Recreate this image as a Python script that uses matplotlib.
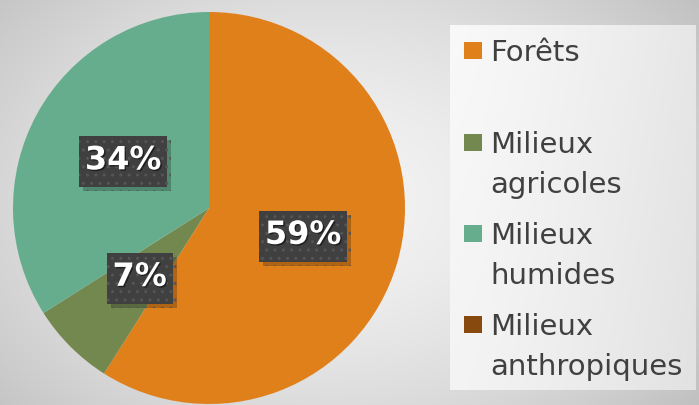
import numpy as np
import matplotlib
matplotlib.use("Agg")
import matplotlib.pyplot as plt
from matplotlib.patches import Rectangle
import matplotlib.patheffects as pe

categories = ["Forêts", "Milieux\nagricoles", "Milieux\nhumides", "Milieux\nanthropiques"]
values = [59, 7, 34, 0]
colors = ["#E0801B", "#72884F", "#66AD8E", "#87490D"]

W, H = 699, 405
fig = plt.figure(figsize=(W / 100, H / 100), dpi=100)

# background radial gradient
bg = fig.add_axes([0, 0, 1, 1], zorder=0)
yy, xx = np.mgrid[0:H, 0:W]
d = np.sqrt(((xx - 330) / 420.0) ** 2 + ((yy - 200) / 300.0) ** 2)
g = 0.955 - 0.17 * np.clip(d, 0, 1.3) ** 1.6
bg.imshow(np.dstack([g, g, g]), extent=[0, W, H, 0], aspect="auto")
bg.set_xlim(0, W)
bg.set_ylim(H, 0)
bg.axis("off")

# legend panel
lp = fig.add_axes([450 / W, 1 - 390 / H, 246 / W, 365 / H], zorder=1)
gx = np.linspace(0, 1, 200)
gy = np.linspace(0, 1, 100)
GX, GY = np.meshgrid(gx, gy)
pg = 0.975 - 0.07 * GX ** 1.3 - 0.02 * GY
lp.imshow(np.dstack([pg, pg, pg]), extent=[0, 1, 1, 0], aspect="auto")
lp.axis("off")

# pie
cx, cy, r = 209, 208, 196
ax = fig.add_axes([(cx - r) / W, (H - cy - r) / H, 2 * r / W, 2 * r / H], zorder=2)
wedges, texts, autotexts = ax.pie(
    values, colors=colors, startangle=90, counterclock=False,
    autopct=lambda p: f"{p:.0f}%" if p > 0.5 else "", pctdistance=0.5,
    wedgeprops=dict(linewidth=0),
    textprops=dict(color="white", fontsize=23, fontweight="bold", family=["DejaVu Sans"]),
)
ax.set_xlim(-1, 1)
ax.set_ylim(-1, 1)
ax.set_aspect("equal")
ax.axis("off")

fig.canvas.draw()
renderer = fig.canvas.get_renderer()
px = 1.0 / r  # data units per pixel
for t in autotexts:
    if not t.get_text():
        continue
    t.set_zorder(4)
    t.set_path_effects([pe.withSimplePatchShadow(offset=(1, -1), shadow_rgbFace="#000000", alpha=0.5)])
    bb = t.get_window_extent(renderer).transformed(ax.transData.inverted())
    tx, ty = t.get_position()
    bw = (bb.x1 - bb.x0) + 12 * px
    bh = 51 * px
    rect = Rectangle((tx - bw / 2, ty - bh / 2 - 1 * px), bw, bh, fc="#404040",
                     ec="#555555", lw=0, hatch="..", zorder=3)
    rect.set_path_effects([pe.SimplePatchShadow(offset=(3, -3), shadow_rgbFace="#000000", alpha=0.22), pe.Normal()])
    ax.add_patch(rect)

# legend (manual)
leg_base = [61, 153, 244, 335]
line_gap = 40
for cat, col, yb in zip(categories, colors, leg_base):
    fig.patches.append(Rectangle((464 / W, 1 - (yb - 2) / H), 18 / W, 17 / H,
                                 transform=fig.transFigure, fc=col, ec="none", zorder=3))
    for i, line in enumerate(cat.split("\n")):
        fig.text(490 / W, 1 - (yb + i * line_gap) / H, line, ha="left", va="baseline",
                 fontsize=21, color="#404040", family=["DejaVu Sans"], zorder=3)

fig.savefig("out.png", dpi=100)
